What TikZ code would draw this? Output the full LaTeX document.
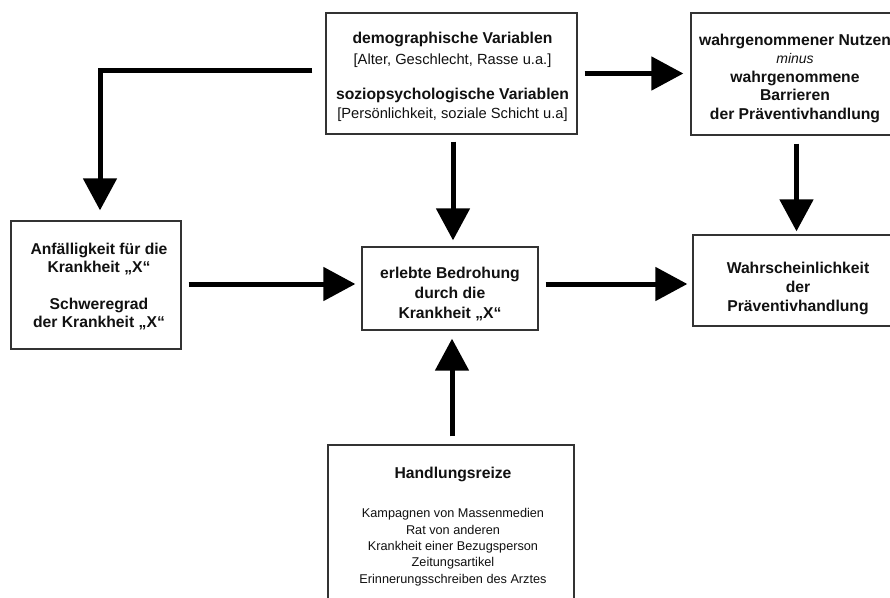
\documentclass[tikz,border=0pt]{standalone}
\usepackage{fontspec}
\setmainfont{Liberation Sans}
\usetikzlibrary{arrows.meta}
\definecolor{boxgray}{HTML}{333333}
\definecolor{inktext}{HTML}{111111}
\newcommand\headfont{\fontsize{15.7pt}{19pt}\selectfont\bfseries}
\newcommand\notefont{\fontsize{14.7pt}{19pt}\selectfont\mdseries}
\newcommand\smallnote{\fontsize{12.7pt}{16pt}\selectfont\mdseries}
\newcommand\minusfont{\fontsize{14pt}{18pt}\selectfont\mdseries\itshape}
\begin{document}
\begin{tikzpicture}[x=1pt,y=-1pt,
  box/.style={draw=boxgray, line width=1.3pt, rectangle, inner sep=0pt},
  txt/.style={align=center, inner sep=0pt, text=inktext},
  arr/.style={line width=5pt, -{Triangle[length=32pt,width=33pt]}}]
\useasboundingbox (0,0) rectangle (890,597);
\fill[white] (0,0) rectangle (890,597);

% frames
\node[box, minimum width=251pt, minimum height=121pt] (demo) at (451.5,73.5) {};
\node[box, minimum width=211pt, minimum height=122pt] (nutzen) at (796.5,74) {};
\node[box, minimum width=170pt, minimum height=128pt] (anf) at (96,285) {};
\node[box, minimum width=176pt, minimum height=83pt] (bedro) at (450,288.5) {};
\node[box, minimum width=210pt, minimum height=91pt] (wahr) at (798,280.5) {};
\node[box, minimum width=246pt, minimum height=166pt] (hand) at (451,528) {};

% texts
\node[txt, font=\fontsize{15.7pt}{19pt}\selectfont\bfseries] (demoT) at (452.5,77)
  {\headfont demographische Variablen\\[2pt]
   \notefont [Alter, Geschlecht, Rasse u.a.]\\[16pt]
   \headfont soziopsychologische Variablen\\
   \notefont [Persönlichkeit, soziale Schicht u.a]};
\node[txt, font=\fontsize{15.7pt}{18.5pt}\selectfont\bfseries] (nutzenT) at (795,78)
  {\headfont wahrgenommener Nutzen\\
   \minusfont minus\\
   \headfont wahrgenommene\\
   \headfont Barrieren\\
   \headfont der Präventivhandlung};
\node[txt, font=\fontsize{15.7pt}{18pt}\selectfont\bfseries] (anfT) at (99,286.5)
  {\headfont Anfälligkeit für die\\
   \headfont Krankheit „X“\\[19pt]
   \headfont Schweregrad\\
   \headfont der Krankheit „X“};
\node[txt, font=\fontsize{15.7pt}{20pt}\selectfont\bfseries] (bedroT) at (450,294)
  {\headfont erlebte Bedrohung\\
   \headfont durch die\\
   \headfont Krankheit „X“};
\node[txt, font=\fontsize{15.7pt}{19pt}\selectfont\bfseries] (wahrT) at (798,288)
  {\headfont Wahrscheinlichkeit\\
   \headfont der\\
   \headfont Präventivhandlung};
\node[txt, font=\fontsize{12.7pt}{16.3pt}\selectfont] (handT) at (453,526.5)
  {\headfont Handlungsreize\\[23pt]
   \smallnote Kampagnen von Massenmedien\\
   \smallnote Rat von anderen\\
   \smallnote Krankheit einer Bezugsperson\\
   \smallnote Zeitungsartikel\\
   \smallnote Erinnerungsschreiben des Arztes};

% connectors
\draw[arr] ([xshift=-13pt,yshift=3.5pt]demo.west) -| ([xshift=4pt,yshift=10pt]anf.north);
\draw[arr, shorten <=7pt, shorten >=6pt] ([xshift=1.5pt]demo.south) -- ([xshift=1.5pt]demo.south |- bedro.north);
\draw[arr, shorten <=7pt, shorten >=7pt] (demo.east) -- (demo.east -| nutzen.west);
\draw[arr, shorten <=8pt, shorten >=3pt] (nutzen.south) -- (nutzen.south |- wahr.north);
\draw[arr, shorten <=7pt, shorten >=6pt] ([yshift=1pt]anf.east) -- ([yshift=1pt]anf.east -| bedro.west);
\draw[arr, shorten <=7pt, shorten >=5pt] ([yshift=4.5pt]bedro.east) -- ([yshift=4.5pt]bedro.east -| wahr.west);
\draw[arr, shorten <=8pt, shorten >=8pt] ([xshift=1pt]hand.north) -- ([xshift=1pt]hand.north |- bedro.south);
\end{tikzpicture}
\end{document}
